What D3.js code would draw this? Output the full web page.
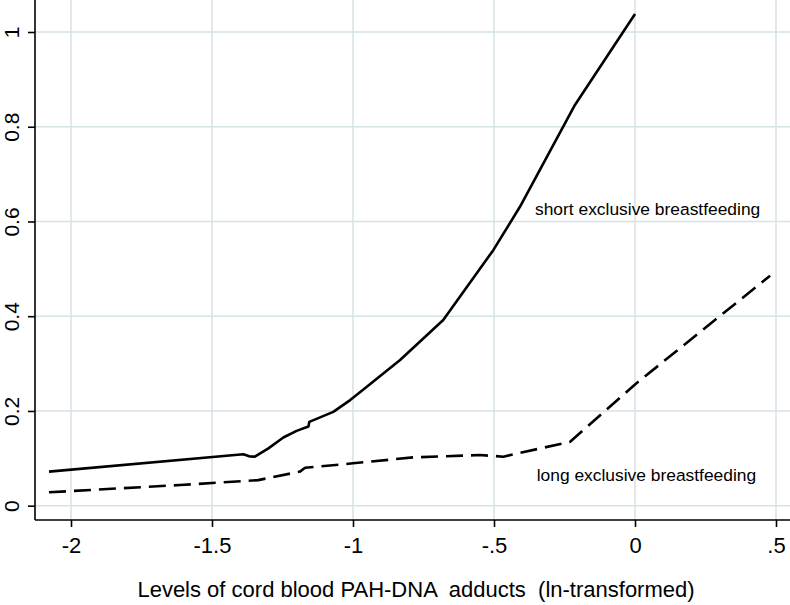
<!DOCTYPE html>
<html>
<head>
<meta charset="utf-8">
<script src="https://cdn.jsdelivr.net/npm/d3@7/dist/d3.min.js"></script>
<style>
  html, body { margin: 0; padding: 0; background: #fff; }
  svg { display: block; }
  text { font-family: "Liberation Sans", Arial, Helvetica, sans-serif; fill: #000; }
</style>
</head>
<body>
<svg id="chart" width="790" height="605"></svg>
<script>
// ---- data ----
const xTicks = [-2, -1.5, -1, -0.5, 0, 0.5];
const xTickLabels = ["-2", "-1.5", "-1", "-.5", "0", ".5"];
const yTicks = [0, 0.2, 0.4, 0.6, 0.8, 1];
const yTickLabels = ["0", "0.2", "0.4", "0.6", "0.8", "1"];

const shortX = [-2.078, -1.389, -1.365, -1.348, -1.30, -1.247, -1.20, -1.158, -1.155, -1.07, -1.01, -0.951, -0.833, -0.68, -0.502, -0.408, -0.213, 0];
const shortY = [0.072, 0.1085, 0.104, 0.1035, 0.121, 0.144, 0.158, 0.167, 0.177, 0.198, 0.223, 0.251, 0.3076, 0.392, 0.540, 0.631, 0.846, 1.038];

const longX = [-2.078, -1.613, -1.336, -1.188, -1.17, -1.0, -0.786, -0.55, -0.467, -0.23, 0, 0.479];
const longY = [0.0283, 0.0437, 0.054, 0.072, 0.080, 0.0895, 0.102, 0.107, 0.1035, 0.135, 0.256, 0.4856];

const labels = [
  { text: "short exclusive breastfeeding", x: -0.3546, y: 0.6137 },
  { text: "long exclusive breastfeeding", x: -0.3486, y: 0.052 }
];
const xTitle = "Levels of cord blood PAH-DNA  adducts  (ln-transformed)";

// ---- layout ----
const svg = d3.select("#chart");
const pLeft = 35, pRight = 790, pTop = 0, pBottom = 520;

const x = d3.scaleLinear().domain([-2, 0.5]).range([71, 776]);
const y = d3.scaleLinear().domain([0, 1]).range([505.7, 32]);

// grid
const grid = svg.append("g");
grid.selectAll("line.v").data(xTicks).join("line")
  .attr("class", "v")
  .attr("x1", d => x(d)).attr("x2", d => x(d))
  .attr("y1", pTop).attr("y2", pBottom)
  .attr("stroke", "#d5e2e6").attr("stroke-width", 1.5);
grid.selectAll("line.h").data(yTicks).join("line")
  .attr("class", "h")
  .attr("x1", pLeft).attr("x2", pRight)
  .attr("y1", d => y(d)).attr("y2", d => y(d))
  .attr("stroke", "#d5e2e6").attr("stroke-width", 1.5);

// axes
const xAxis = d3.axisBottom(x).tickValues(xTicks).tickFormat((d, i) => xTickLabels[i]).tickSize(7).tickSizeOuter(0);
const gx = svg.append("g").attr("transform", `translate(0,${pBottom})`).call(xAxis);
gx.attr("font-family", null).attr("font-size", null);
gx.select(".domain").attr("d", `M${pLeft},0H${pRight}`).attr("stroke", "#000").attr("stroke-width", 1.6);
gx.selectAll(".tick line").attr("stroke", "#000").attr("stroke-width", 1.6);
gx.selectAll(".tick text").attr("font-size", 22).attr("y", 33).attr("dy", 0)
  .attr("fill", "#000");

const yAxis = d3.axisLeft(y).tickValues(yTicks).tickFormat((d, i) => yTickLabels[i]).tickSize(7).tickSizeOuter(0);
const gy = svg.append("g").attr("transform", `translate(${pLeft},0)`).call(yAxis);
gy.attr("font-family", null).attr("font-size", null);
gy.select(".domain").attr("d", `M0,${pTop}V${pBottom}`).attr("stroke", "#000").attr("stroke-width", 1.6);
gy.selectAll(".tick line").attr("stroke", "#000").attr("stroke-width", 1.6);
gy.selectAll(".tick text")
  .attr("x", 0).attr("dy", 0).attr("y", 0)
  .attr("text-anchor", "middle")
  .attr("transform", "translate(-16,0) rotate(-90)")
  .attr("font-size", 21)
  .attr("fill", "#000");

// lines
const line = d3.line().x(d => x(d[0])).y(d => y(d[1]));
const shortData = shortX.map((v, i) => [v, shortY[i]]);
const longData = longX.map((v, i) => [v, longY[i]]);

svg.append("path").datum(shortData).attr("d", line)
  .attr("fill", "none").attr("stroke", "#000").attr("stroke-width", 2.6)
  .attr("stroke-linejoin", "round");
svg.append("path").datum(longData).attr("d", line)
  .attr("fill", "none").attr("stroke", "#000").attr("stroke-width", 2.6)
  .attr("stroke-dasharray", "17,8").attr("stroke-linejoin", "round");

// annotations
svg.selectAll("text.lab").data(labels).join("text")
  .attr("class", "lab")
  .attr("x", d => x(d.x)).attr("y", d => y(d.y))
  .attr("font-size", 17.4)
  .text(d => d.text);

// x title
svg.append("text")
  .attr("x", 416).attr("y", 597)
  .attr("text-anchor", "middle")
  .attr("font-size", 22)
  .style("white-space", "pre")
  .text(xTitle);
</script>
</body>
</html>
